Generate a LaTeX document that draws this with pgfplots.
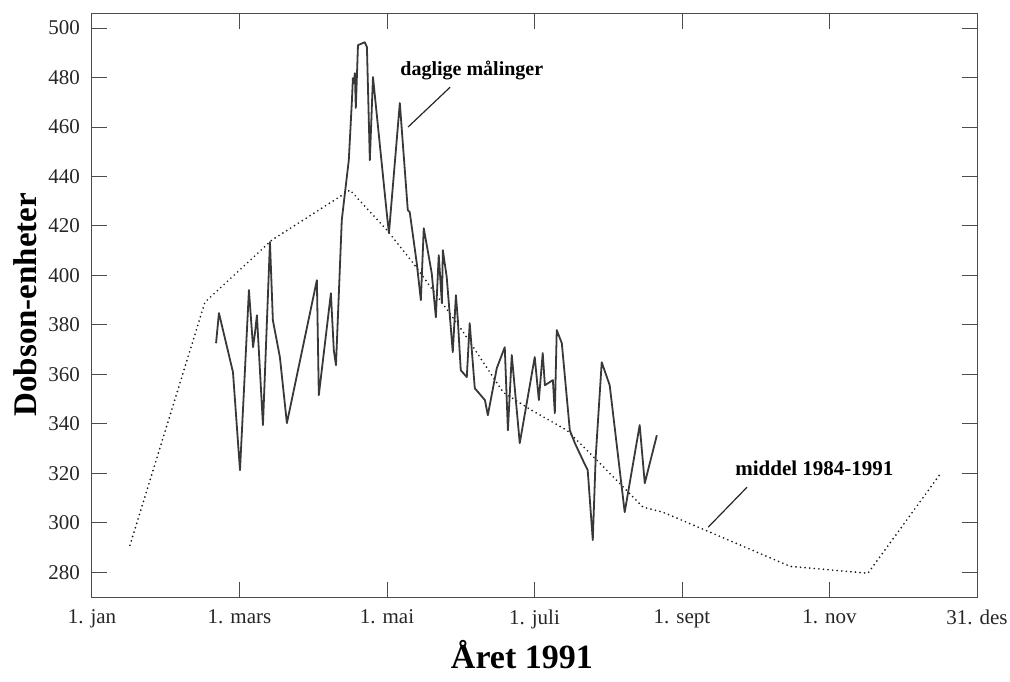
\documentclass[border=0pt]{standalone}
\usepackage{fontspec}
\setmainfont{Liberation Serif}
\usepackage{pgfplots}
\pgfplotsset{compat=1.18}

\begin{document}
\begin{tikzpicture}
\useasboundingbox (-46pt,-42pt) rectangle (459pt,298.5pt);
\begin{axis}[
    scale only axis,
    width=442.5pt, height=291.5pt,
    xmin=0, xmax=366,
    ymin=270, ymax=505.7,
    xtick={0,61,122,183,244,305,366},
    xticklabels={1. jan, 1. mars, 1. mai, 1. juli, 1. sept, 1. nov, 31. des},
    ytick={280,300,...,500},
    tick align=inside,
    major tick length=7.5pt,
    axis line style={black!70, line width=0.5pt},
    every tick/.style={black!70, line width=0.5pt},
    tick label style={font=\fontsize{10.5}{12}\selectfont, black!85},
    /pgf/number format/assume math mode=true,
    yticklabel style={xshift=-2.5pt},
    xticklabel style={yshift=-3pt},
    clip=false,
]
% middel 1984-1991
\addplot[black!90, line width=0.95pt, line cap=round, dash pattern=on 0pt off 2.3pt]
coordinates {
    (15.7,290.9) (46.7,389.2) (74.4,414.3) (106.7,434.5) (122.0,418.3)
    (132.8,405.0) (153.0,377.9) (170.0,352.8) (181.1,345.9) (196.4,337.4)
    (208.8,325.3) (227.9,306.3) (236.1,304.3) (255.6,296.2) (288.7,282.4)
    (320.9,279.6) (350.7,319.6)
};
% daglige maalinger
\addplot[black!78, line width=0.9pt, line join=round]
coordinates {
    (51.3,372.6) (52.5,384.8) (58.3,360.9) (61.2,321.3) (64.9,394.1)
    (66.6,371.0) (67.4,376.7) (68.2,383.9) (70.7,339.5) (73.6,413.5)
    (74.8,381.9) (77.7,367.0) (80.6,340.3) (93.0,398.1) (93.8,351.6)
    (98.8,392.8) (100.0,369.8) (100.9,363.7) (103.3,422.4) (104.6,433.3)
    (106.2,446.6) (107.5,470.9) (107.9,479.8) (108.3,477.8) (108.7,481.8)
    (109.1,467.7) (110.0,493.1) (112.8,494.3) (113.7,492.3) (114.9,446.6)
    (116.2,480.2) (121.9,425.2) (122.8,417.1) (127.3,469.7) (130.6,426.4)
    (131.4,425.6) (134.3,405.0) (136.0,390.0) (137.2,419.1) (140.5,400.9)
    (142.2,383.1) (143.4,408.2) (144.7,388.8) (145.1,410.2) (146.7,399.3)
    (149.2,369.0) (150.5,392.0) (151.3,381.9) (152.5,361.7) (155.0,358.9)
    (156.2,380.7) (158.3,354.4) (162.5,349.6) (163.7,343.5) (167.4,362.5)
    (170.7,371.0) (172.0,337.4) (173.6,367.8) (176.9,332.2) (183.1,367.0)
    (184.8,349.6) (186.4,368.6) (187.3,355.6) (190.6,357.7) (191.4,344.3)
    (192.2,377.9) (194.3,372.6) (197.6,337.4) (199.7,332.2) (203.0,325.3)
    (205.0,321.3) (207.1,293.0) (208.3,326.5) (210.8,364.9) (214.1,355.6)
    (220.3,304.3) (226.5,339.5) (228.6,316.0) (233.6,335.4)
};
% labels
\node[anchor=base west, font=\bfseries\fontsize{10}{12}\selectfont, inner sep=0pt]
    at (axis cs:127.4,480.8) {daglige målinger};
\draw[black!85, line width=0.6pt] (axis cs:148.1,476.1) -- (axis cs:130.7,460.0);
\node[anchor=base west, font=\bfseries\fontsize{10.5}{12}\selectfont, inner sep=0pt]
    at (axis cs:265.9,319.2) {middel 1984-1991};
\draw[black!85, line width=0.6pt] (axis cs:270.9,314.4) -- (axis cs:254.8,298.2);
\node[rotate=90, anchor=base, font=\bfseries\fontsize{16.5}{18}\selectfont, inner sep=0pt]
    at (axis cs:-22.75,388.2) {Dobson-enheter};
\node[anchor=base, font=\bfseries\fontsize{17}{20}\selectfont, inner sep=0pt]
    at (axis cs:177.8,241.2) {Året 1991};
\end{axis}
\end{tikzpicture}
\end{document}
